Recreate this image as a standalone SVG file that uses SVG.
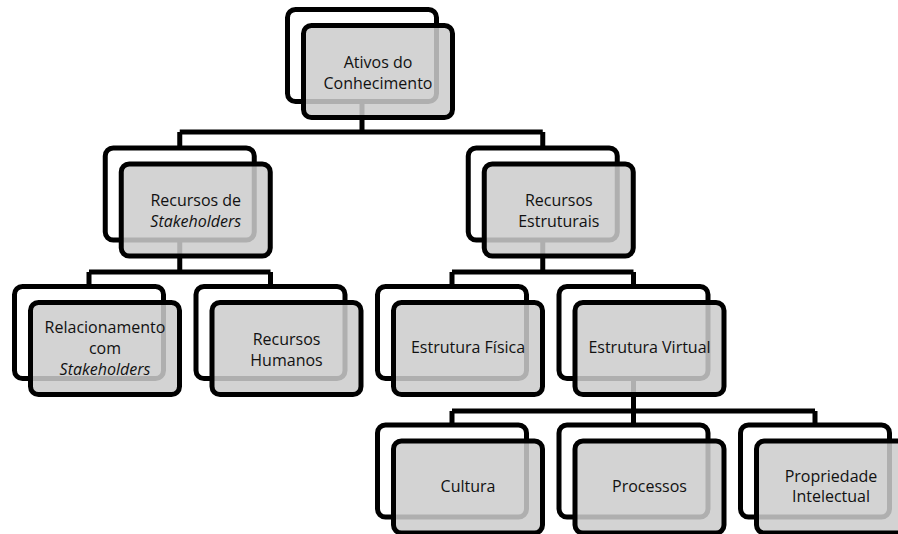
<svg xmlns="http://www.w3.org/2000/svg" width="898" height="534" viewBox="0 0 898 534">
  <style>
    .back { fill: none; stroke: #000; stroke-width: 5; }
    .front { fill: #cccccc; fill-opacity: 0.86; stroke: #000; stroke-width: 5; }
    .conn { fill: none; stroke: #000; stroke-width: 5; stroke-linejoin: miter; }
    text { font-family: "Open Sans", "Liberation Sans", sans-serif; font-size: 16px; fill: #111; text-anchor: middle; }
    .it { font-style: italic; }
  </style>
  <rect width="898" height="534" fill="#fff"/>

  <!-- tree connectors -->
  <g id="connectors">
    <path class="conn" d="M362 102 V132 M179.75 132 H542.75 M179.75 132 V148 M542.75 132 V148"/>
    <path class="conn" d="M179.75 241 V272 M89 272 H270.5 M89 272 V286.5 M270.5 272 V286.5"/>
    <path class="conn" d="M542.75 241 V272 M452 272 H633.5 M452 272 V286.5 M633.5 272 V286.5"/>
    <path class="conn" d="M633.5 379 V411 M452 411 H815 M452 411 V425 M633.5 411 V425 M815 411 V425"/>
  </g>

  <g id="ativos-conhecimento">
    <rect class="back" x="287.5" y="9.5" width="149" height="92" rx="8"/>
    <rect class="front" x="303.5" y="25.5" width="149" height="92" rx="8"/>
    <text x="378" y="68">Ativos do</text>
    <text x="378" y="89">Conhecimento</text>
  </g>

  <g id="recursos-stakeholders">
    <rect class="back" x="105.25" y="148" width="149" height="92" rx="8"/>
    <rect class="front" x="121.25" y="164" width="149" height="92" rx="8"/>
    <text x="195.75" y="206">Recursos de</text>
    <text x="195.75" y="227" class="it">Stakeholders</text>
  </g>

  <g id="recursos-estruturais">
    <rect class="back" x="468.25" y="148" width="149" height="92" rx="8"/>
    <rect class="front" x="484.25" y="164" width="149" height="92" rx="8"/>
    <text x="558.75" y="206">Recursos</text>
    <text x="558.75" y="227">Estruturais</text>
  </g>

  <g id="relacionamento-stakeholders">
    <rect class="back" x="14.5" y="286.5" width="149" height="92" rx="8"/>
    <rect class="front" x="30.5" y="302.5" width="149" height="92" rx="8"/>
    <text x="105" y="333">Relacionamento</text>
    <text x="105" y="354">com</text>
    <text x="105" y="375" class="it">Stakeholders</text>
  </g>

  <g id="recursos-humanos">
    <rect class="back" x="196" y="286.5" width="149" height="92" rx="8"/>
    <rect class="front" x="212" y="302.5" width="149" height="92" rx="8"/>
    <text x="286.5" y="345">Recursos</text>
    <text x="286.5" y="366">Humanos</text>
  </g>

  <g id="estrutura-fisica">
    <rect class="back" x="377.5" y="286.5" width="149" height="92" rx="8"/>
    <rect class="front" x="393.5" y="302.5" width="149" height="92" rx="8"/>
    <text x="468" y="353">Estrutura Física</text>
  </g>

  <g id="estrutura-virtual">
    <rect class="back" x="559" y="286.5" width="149" height="92" rx="8"/>
    <rect class="front" x="575" y="302.5" width="149" height="92" rx="8"/>
    <text x="649.5" y="353">Estrutura Virtual</text>
  </g>

  <g id="cultura">
    <rect class="back" x="377.5" y="425" width="149" height="92" rx="8"/>
    <rect class="front" x="393.5" y="441" width="149" height="92" rx="8"/>
    <text x="468" y="492">Cultura</text>
  </g>

  <g id="processos">
    <rect class="back" x="559" y="425" width="149" height="92" rx="8"/>
    <rect class="front" x="575" y="441" width="149" height="92" rx="8"/>
    <text x="649.5" y="492">Processos</text>
  </g>

  <g id="propriedade-intelectual">
    <rect class="back" x="740.5" y="425" width="149" height="92" rx="8"/>
    <rect class="front" x="756.5" y="441" width="149" height="92" rx="8"/>
    <text x="831" y="482">Propriedade</text>
    <text x="831" y="502">Intelectual</text>
  </g>
</svg>
